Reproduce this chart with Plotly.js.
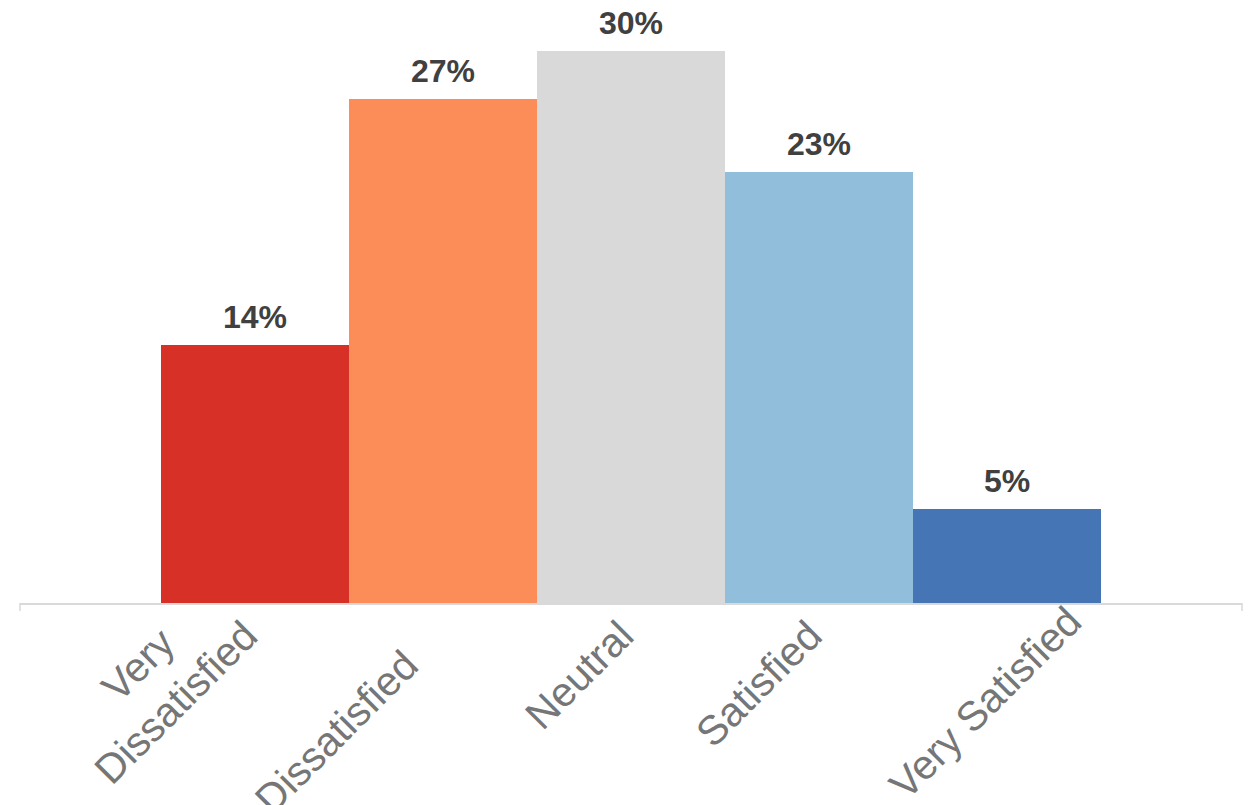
<!DOCTYPE html>
<html>
<head>
<meta charset="utf-8">
<script src="https://cdn.plot.ly/plotly-3.0.1.min.js"></script>
<style>html,body{margin:0;padding:0;background:#fff;}#chart{width:1248px;height:805px;}</style>
</head>
<body>
<div id="chart"></div>
<script>
const categories = ['Very<br>Dissatisfied', 'Dissatisfied', 'Neutral', 'Satisfied', 'Very Satisfied'];
const values = [14.0, 27.4, 30.0, 23.4, 5.1];
const valueLabels = ['14%', '27%', '30%', '23%', '5%'];
const barColors = ['#D73027', '#FC8D59', '#D9D9D9', '#91BFDB', '#4575B4'];
// layout-only pixel nudges [dx, dy] for the rotated category labels
const labelNudge = [[0, 0], [-27, -30], [0, 0], [0, 0], [72, 14]];

const FONT = 'Liberation Sans, Arial, sans-serif';
const tickSize = 41;
const linePitch = tickSize * 1.3;  // plotly multi-line spacing
const R = Math.SQRT1_2;

const trace = {
  type: 'bar',
  x: categories,
  y: values,
  marker: {color: barColors, line: {width: 0}},
  hoverinfo: 'skip'
};

const valueAnn = categories.map((c, i) => ({
  x: c, y: values[i], xref: 'x', yref: 'y',
  text: valueLabels[i], showarrow: false,
  xanchor: 'center', yanchor: 'bottom', yshift: 8,
  font: {family: FONT, size: 32, color: '#404040', weight: 'bold'}
}));

// rotated category labels: end of last line placed near the category centre, just under the axis
const tickAnn = categories.map((c, i) => {
  const n = c.split('<br>').length;
  return {
    x: c, y: 0, xref: 'x', yref: 'paper',
    text: c, showarrow: false, textangle: -45, align: 'center',
    xanchor: 'right', yanchor: 'top',
    xshift: 14 + labelNudge[i][0],
    yshift: -6 + R * (n - 1) * linePitch + labelNudge[i][1],
    font: {family: FONT, size: tickSize, color: '#767676'}
  };
});

const layout = {
  width: 1248, height: 805,
  margin: {l: 20, r: 6, t: 51, b: 202, pad: 0},
  paper_bgcolor: '#ffffff', plot_bgcolor: '#ffffff',
  showlegend: false,
  bargap: 0,
  font: {family: FONT},
  xaxis: {
    type: 'category',
    range: [-1.25, 5.25],
    showline: true, linecolor: '#d9d9d9', linewidth: 1.5,
    showgrid: false, zeroline: false, ticks: '', showticklabels: false,
    fixedrange: true
  },
  yaxis: {range: [0, 30], visible: false, showgrid: false, zeroline: false, fixedrange: true},
  annotations: valueAnn.concat(tickAnn),
  shapes: [0, 1].map(px => ({
    type: 'line', xref: 'paper', yref: 'paper', ysizemode: 'pixel', yanchor: 0,
    x0: px, x1: px, y0: 0, y1: -8, line: {color: '#d9d9d9', width: 1.5}
  }))
};

Plotly.newPlot('chart', [trace], layout, {displayModeBar: false, staticPlot: true});
</script>
</body>
</html>
